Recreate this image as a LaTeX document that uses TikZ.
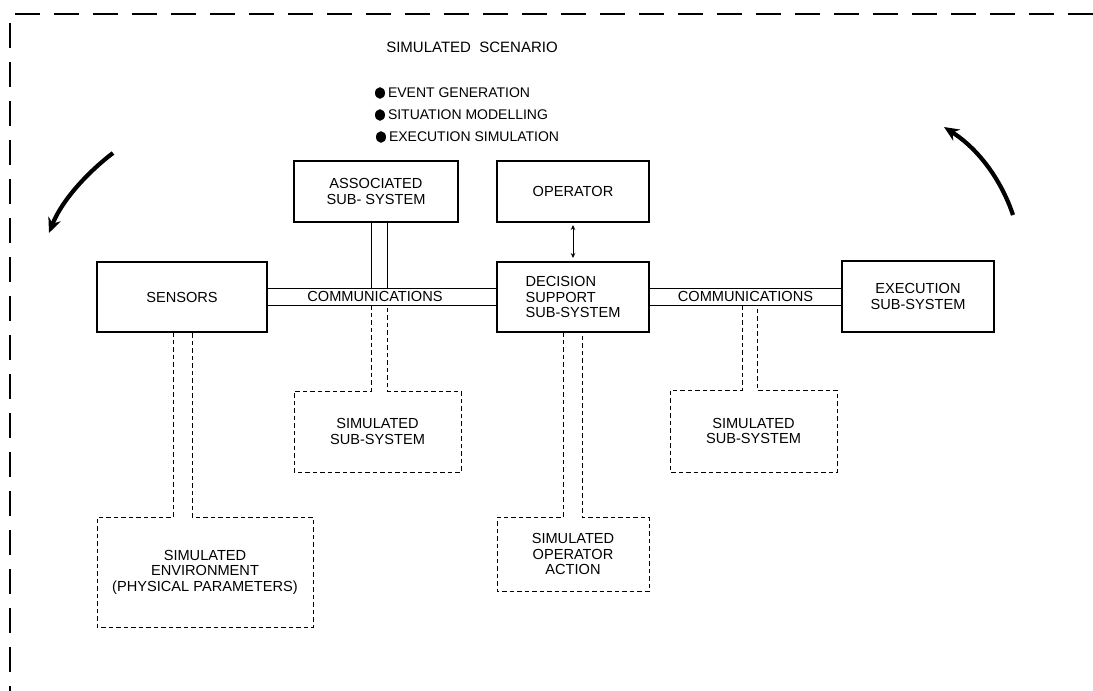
\documentclass[tikz,border=0pt]{standalone}
\usepackage{fontspec}
\setmainfont{Liberation Sans}
\usetikzlibrary{arrows.meta,calc}
\begin{document}
\begin{tikzpicture}[x=1pt,y=-1pt,
  every node/.style={inner sep=0pt,outer sep=0pt,align=center,font=\fontsize{14.6}{15.5}\selectfont},
  solidbox/.style={draw,line width=1.1pt},
  ghost/.style={draw=none},
  dline/.style={line width=1pt,dash pattern=on 4.5pt off 3pt},
  bus/.style={line width=1pt},
  frame/.style={line width=1.5pt,dash pattern=on 25pt off 14pt},
  bigarrow/.style={line width=4.2pt,-{Stealth[length=15pt,width=13pt]}},
]
\useasboundingbox (0,0) rectangle (1093,691);
% frame
\draw[frame] (1093,14) -- (10,14) -- (10,691);
% title and bullets
\node (title) at (472,47) {\fontsize{15}{17}\selectfont SIMULATED\ \ SCENARIO};
\fill (380,93) ellipse (5 and 5.8);
\fill (380,115) ellipse (5 and 5.8);
\fill (381,137) ellipse (5 and 5.8);
\node[anchor=west] (b1) at (388,93) {\fontsize{14}{15}\selectfont EVENT GENERATION};
\node[anchor=west] (b2) at (388,115) {\fontsize{14}{15}\selectfont SITUATION MODELLING};
\node[anchor=west] (b3) at (389,137) {\fontsize{14}{15}\selectfont EXECUTION SIMULATION};
% solid boxes
\node[solidbox,minimum width=170,minimum height=70] (sensors) at (182,297) {SENSORS};
\node[solidbox,minimum width=164,minimum height=61] (assoc) at (376,191.5) {ASSOCIATED\\SUB- SYSTEM};
\node[solidbox,minimum width=152,minimum height=61] (op) at (573,191.5) {OPERATOR};
\node[solidbox,minimum width=152,minimum height=70,align=left] (dss) at (573,297) {\makebox[93pt][l]{DECISION}\\SUPPORT\\SUB-SYSTEM};
\node[solidbox,minimum width=152,minimum height=71] (exec) at (918,296.5) {EXECUTION\\SUB-SYSTEM};
% dashed (simulated) boxes, outlines drawn below
\node[ghost,minimum width=167,minimum height=81] (ss1) at (377.5,431.5) {SIMULATED\\SUB-SYSTEM};
\node[ghost,minimum width=167,minimum height=82] (ss2) at (753.5,431) {SIMULATED\\SUB-SYSTEM};
\node[ghost,minimum width=152,minimum height=74] (sop) at (573,554) {SIMULATED\\OPERATOR\\ACTION};
\node[ghost,minimum width=216,minimum height=110] (env) at (205,572) {SIMULATED\\ENVIRONMENT\\(PHYSICAL PARAMETERS)};
% communications buses
\draw[bus] (sensors.east |- 0,288) -- (dss.west |- 0,288);
\draw[bus] (sensors.east |- 0,305) -- (dss.west |- 0,305);
\draw[bus] (dss.east |- 0,288) -- (exec.west |- 0,288);
\draw[bus] (dss.east |- 0,305) -- (exec.west |- 0,305);
\node (com1) at (375,296.5) {COMMUNICATIONS};
\node (com2) at (745.5,296.5) {COMMUNICATIONS};
% associated sub-system link
\draw[bus] (371,0 |- assoc.south) -- (371,288);
\draw[bus] (387,0 |- assoc.south) -- (387,288);
% operator link
\draw[line width=0.9pt,{Stealth[length=5pt,width=4.5pt]}-{Stealth[length=5pt,width=4.5pt]}]
  ([yshift=-3pt]op.south) -- ([yshift=4pt]dss.north);
% dashed double links with box outlines
\draw[dline] (371,305) -- (371,0 |- ss1.north) -- (ss1.north west) -- (ss1.south west)
  -- (ss1.south east) -- (ss1.north east) -- (387,0 |- ss1.north) -- (387,305);
\draw[dline] (742,305) -- (742,0 |- ss2.north) -- (ss2.north west) -- (ss2.south west)
  -- (ss2.south east) -- (ss2.north east) -- (757,0 |- ss2.north) -- (757,305);
\draw[dline] (563,0 |- dss.south) -- (563,0 |- sop.north) -- (sop.north west) -- (sop.south west)
  -- (sop.south east) -- (sop.north east) -- (582,0 |- sop.north) -- (582,0 |- dss.south);
\draw[dline] (173,0 |- sensors.south) -- (173,0 |- env.north) -- (env.north west) -- (env.south west)
  -- (env.south east) -- (env.north east) -- (192,0 |- env.north) -- (192,0 |- sensors.south);
% rotation arrows
\draw[bigarrow] (113,153) .. controls (88,172) and (62,200) .. (49,233);
\draw[bigarrow] (1013,215) .. controls (1002,182) and (980,150) .. (944,127);
\end{tikzpicture}
\end{document}
